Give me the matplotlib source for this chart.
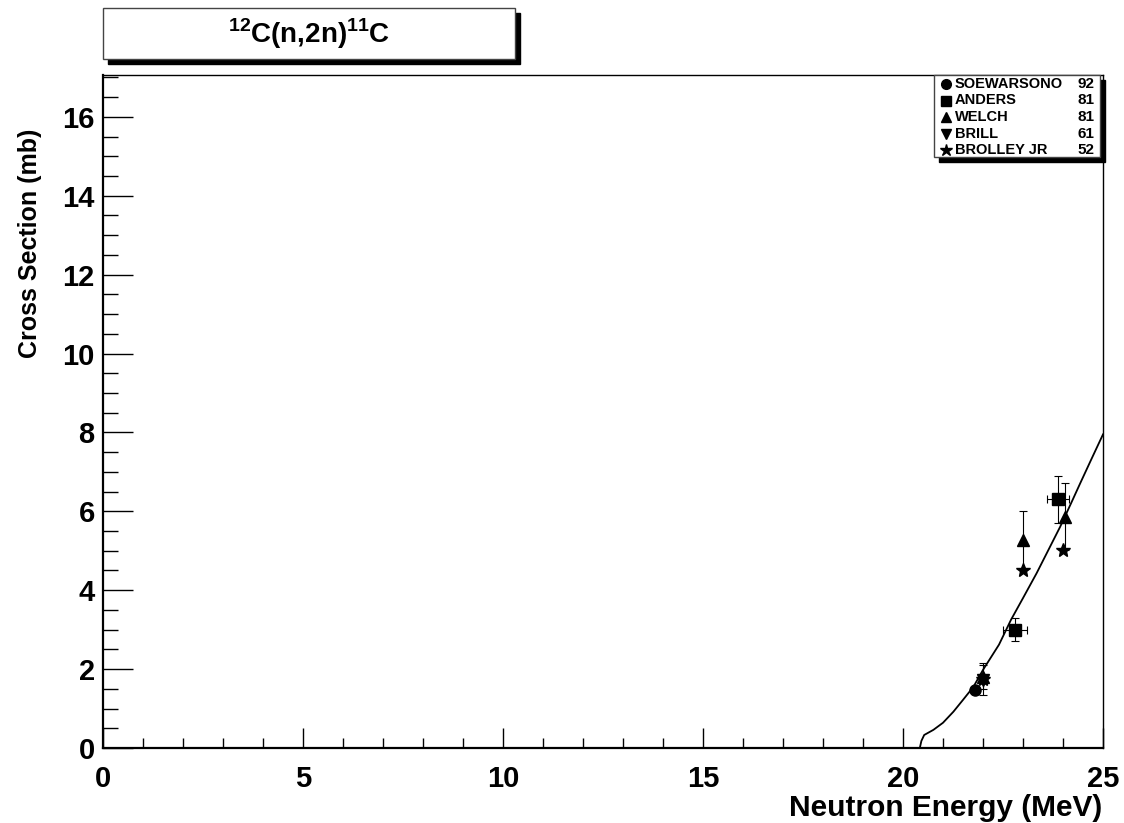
import numpy as np
import matplotlib.pyplot as plt
from matplotlib.patches import Rectangle
from matplotlib.ticker import MultipleLocator

plt.rcParams['font.family'] = 'Liberation Sans'
plt.rcParams['font.weight'] = 'bold'
plt.rcParams['mathtext.fontset'] = 'custom'
plt.rcParams['mathtext.rm'] = 'Liberation Sans:bold'
plt.rcParams['mathtext.bf'] = 'Liberation Sans:bold'

# evaluated curve
curve_e = [20.42, 20.46, 20.53, 20.76, 21.0, 21.26, 21.5, 21.76, 22.0, 22.4,
           22.7, 23.0, 23.34, 23.6, 23.93, 24.2, 24.43, 24.7, 25.0]
curve_xs = [0.0, 0.18, 0.33, 0.46, 0.64, 0.92, 1.22, 1.55, 1.98, 2.62,
            3.25, 3.8, 4.43, 4.95, 5.61, 6.2, 6.71, 7.3, 7.95]

# experimental data
soew_e, soew_xs = [21.8], [1.48]
anders_e, anders_xs = [22.8, 23.88], [3.0, 6.3]
anders_ex, anders_ey = [0.3, 0.28], [0.3, 0.6]
welch_e, welch_xs = [22.0, 23.0, 24.05], [1.8, 5.27, 5.86]
welch_ey = [0.3, 0.75, 0.85]
brill_e, brill_xs = [22.0], [1.72]
brolley_e, brolley_xs = [22.0, 23.0, 24.0], [1.75, 4.52, 5.02]
brolley_ey = [0.4, 0.0, 0.0]

legend_names = ['SOEWARSONO', 'ANDERS', 'WELCH', 'BRILL', 'BROLLEY JR']
legend_years = ['92', '81', '81', '61', '52']
legend_marks = ['o', 's', '^', 'v', '*']

W, H = 1124, 823
fig = plt.figure(figsize=(W / 100, H / 100), dpi=100)
ax = fig.add_axes([103 / W, 1 - 748 / H, 1000 / W, 673 / H])

ax.plot(curve_e, curve_xs, 'k-', lw=1.3)
ekw = dict(color='k', ecolor='k', elinewidth=0.8, capsize=3, capthick=0.8, linestyle='none')
ax.errorbar(soew_e, soew_xs, fmt='o', ms=8, **ekw)
ax.errorbar(anders_e, anders_xs, xerr=anders_ex, yerr=anders_ey, fmt='s', ms=9, **ekw)
ax.errorbar(welch_e, welch_xs, yerr=welch_ey, fmt='^', ms=9, **ekw)
ax.errorbar(brill_e, brill_xs, fmt='v', ms=8, **ekw)
ax.errorbar(brolley_e, brolley_xs, yerr=brolley_ey, fmt='*', ms=10, **ekw)

ax.set_xlim(0, 25)
ax.set_ylim(0, 17.06)
ax.xaxis.set_major_locator(MultipleLocator(5))
ax.xaxis.set_minor_locator(MultipleLocator(1))
ax.yaxis.set_major_locator(MultipleLocator(2))
ax.yaxis.set_minor_locator(MultipleLocator(0.5))
ax.tick_params(which='both', direction='in', top=False, right=False, width=1)
ax.tick_params(axis='x', which='major', length=14.4, pad=12, labelsize=21)
ax.tick_params(axis='x', which='minor', length=7.2)
ax.tick_params(axis='y', which='major', length=21.6, pad=6, labelsize=21)
ax.tick_params(axis='y', which='minor', length=10.8)
for lab in ax.get_xticklabels() + ax.get_yticklabels():
    lab.set_fontweight('bold')
for s in ['left', 'bottom']:
    ax.spines[s].set_linewidth(1.6)
for s in ['top', 'right']:
    ax.spines[s].set_linewidth(1.0)

fig.text(1102 / W, 1 - 808 / H, 'Neutron Energy (MeV)', ha='right', va='center',
         fontsize=21.5, fontweight='bold')
fig.text(30 / W, 1 - 243 / H, 'Cross Section (mb)', ha='center', va='center',
         rotation=90, fontsize=18, fontweight='bold')


def box(x0, y0, x1, y1, sh):
    # pixel box with drop shadow, top-left origin
    fig.patches.append(Rectangle(((x0 + sh) / W, 1 - (y1 + sh) / H), (x1 - x0) / W, (y1 - y0) / H,
                                 transform=fig.transFigure, facecolor='k', edgecolor='k', zorder=5))
    fig.patches.append(Rectangle((x0 / W, 1 - y1 / H), (x1 - x0) / W, (y1 - y0) / H,
                                 transform=fig.transFigure, facecolor='white', edgecolor='#444444',
                                 lw=1.0, zorder=6))


box(103, 8, 515, 59, 5)
fig.text(309 / W, 1 - 34 / H, r'$^{12}$C(n,2n)$^{11}$C', ha='center', va='center',
         fontsize=20, fontweight='bold', zorder=7)

box(934, 75, 1100, 157, 5)
rows = [84, 100.5, 117, 133.5, 150]
for name, yr, mk, ry in zip(legend_names, legend_years, legend_marks, rows):
    fig.lines.append(plt.Line2D([946 / W], [1 - ry / H], marker=mk, color='k',
                                ms=9 if mk == '*' else 7, transform=fig.transFigure, zorder=8))
    fig.text(955 / W, 1 - ry / H, name, ha='left', va='center', fontsize=10.5,
             fontweight='bold', zorder=8)
    fig.text(1094 / W, 1 - ry / H, yr, ha='right', va='center', fontsize=11,
             fontweight='bold', zorder=8)

fig.savefig('out.png', dpi=100)
